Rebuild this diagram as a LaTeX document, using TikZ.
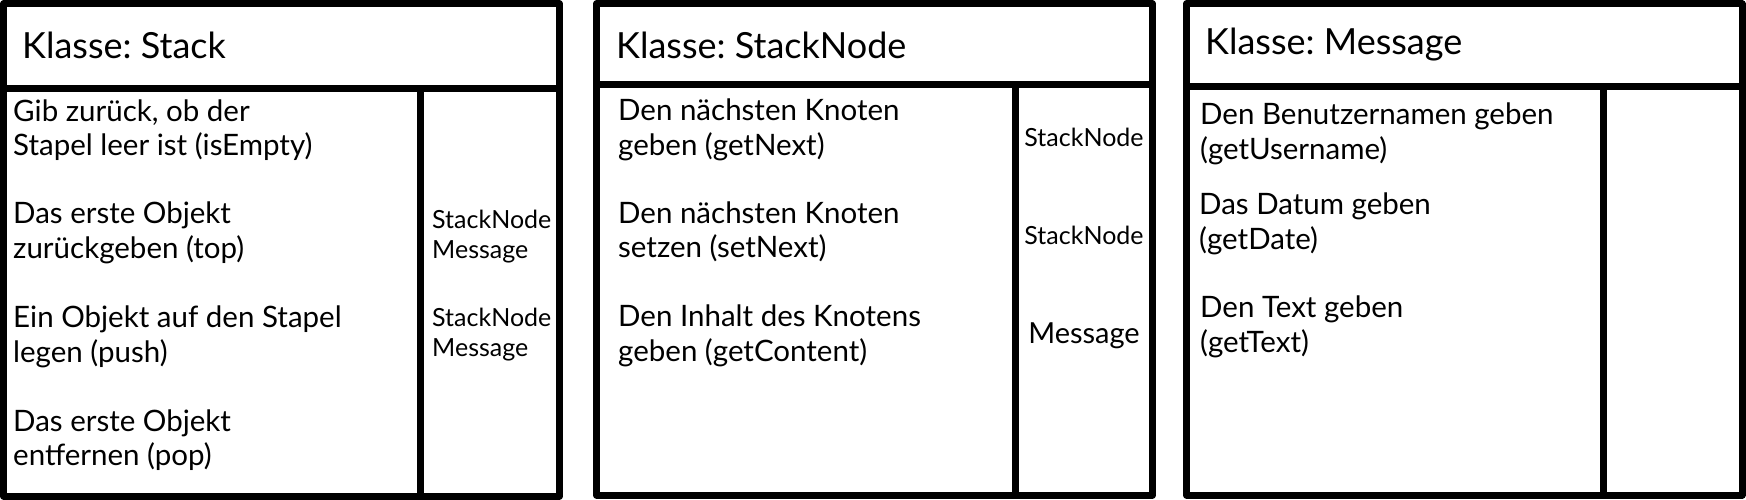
\documentclass[tikz,border=0pt]{standalone}
\usepackage{fontspec}
\setmainfont{Lato}
\usetikzlibrary{positioning}

\begin{document}
\frenchspacing
\begin{tikzpicture}[x=1pt,y=-1pt,line join=round,
  frame/.style={draw,line width=7pt},
  title/.style={anchor=west,inner sep=0pt,font=\fontsize{36}{40}\selectfont},
  method/.style={anchor=west,inner sep=0pt,align=left,font=\fontsize{29.5}{34.5}\selectfont},
  kind/.style={inner sep=0pt,align=left,font=\fontsize{25}{30}\selectfont}]
  \useasboundingbox (0,0) rectangle (1746,500);

  % Stack
  \draw[frame] (3.5,4) rectangle (559.5,496);
  \draw[frame] (3.5,88.5) -- (559.5,88.5);
  \draw[frame] (420.5,88.5) -- (420.5,496);
  \node[title] (stacktitle) at (22,45) {Klasse: Stack};
  \node[method] (isempty) at (13,130) {Gib zurück, ob der\\Stapel leer ist (isEmpty)};
  \node[method] (top) at (13,233) {Das erste Objekt\\zurückgeben (top)};
  \node[method] (push) at (13,337) {Ein Objekt auf den Stapel\\legen (push)};
  \node[method] (pop) at (13,440) {Das erste Objekt\\entfernen (pop)};
  \node[kind,anchor=west] (toptype) at (432,237) {StackNode\\Message};
  \node[kind,anchor=west] (pushtype) at (432,334.5) {StackNode\\Message};

  % StackNode
  \draw[frame] (596.5,4) rectangle (1152.5,495);
  \draw[frame] (596.5,85) -- (1152.5,85);
  \draw[frame] (1015.5,85) -- (1015.5,495);
  \node[title] (nodetitle) at (616,45) {Klasse: StackNode};
  \node[method] (getnext) at (618,130) {Den nächsten Knoten\\geben (getNext)};
  \node[method] (setnext) at (618,232) {Den nächsten Knoten\\setzen (setNext)};
  \node[method] (getcontent) at (618,336) {Den Inhalt des Knotens\\geben (getContent)};
  \node[kind] (getnexttype) at (1084,137) {StackNode};
  \node[kind] (setnexttype) at (1084,235) {StackNode};
  \node[kind,font=\fontsize{29}{34}\selectfont] (contenttype) at (1084,336) {Message};

  % Message
  \draw[frame] (1186.5,4) rectangle (1742,495);
  \draw[frame] (1186.5,86.5) -- (1742,86.5);
  \draw[frame] (1603,86.5) -- (1603,495);
  \node[title] (msgtitle) at (1205,45) {Klasse: Message};
  \node[method] (getusername) at (1200,134) {Den Benutzernamen geben\\(getUsername)};
  \node[method] (getdate) at (1199,224) {Das Datum geben\\(getDate)};
  \node[method] (gettext) at (1200,327) {Den Text geben\\(getText)};
\end{tikzpicture}
\end{document}
